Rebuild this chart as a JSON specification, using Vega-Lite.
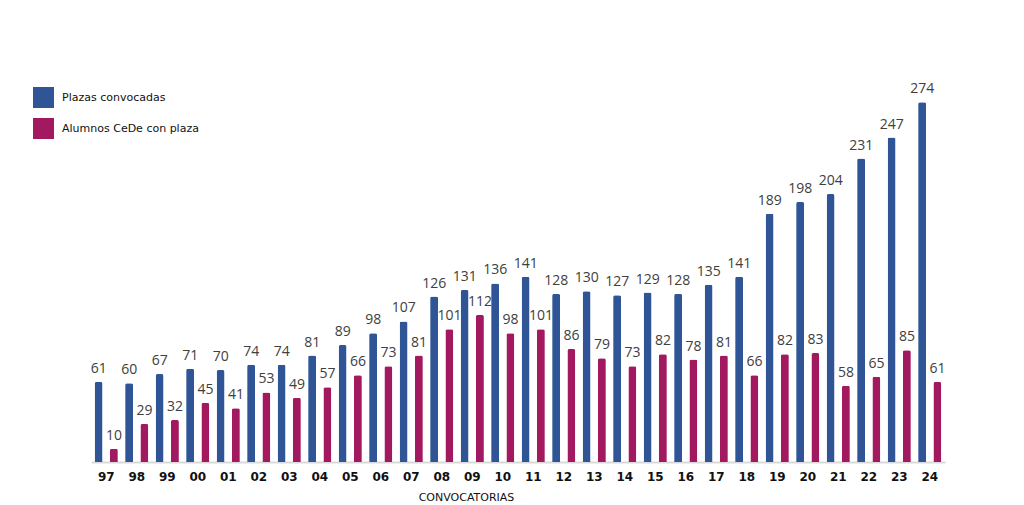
{
  "$schema": "https://vega.github.io/schema/vega-lite/v6.json",
  "width": 854,
  "height": 394,
  "autosize": {"type": "none"},
  "padding": {"left": 91, "top": 68, "right": 79, "bottom": 43},
  "background": "white",
  "config": {"view": {"stroke": null}},
  "data": {"values": [
    {"conv":"97","serie":"Plazas convocadas","valor":61},{"conv":"97","serie":"Alumnos CeDe con plaza","valor":10},
    {"conv":"98","serie":"Plazas convocadas","valor":60},{"conv":"98","serie":"Alumnos CeDe con plaza","valor":29},
    {"conv":"99","serie":"Plazas convocadas","valor":67},{"conv":"99","serie":"Alumnos CeDe con plaza","valor":32},
    {"conv":"00","serie":"Plazas convocadas","valor":71},{"conv":"00","serie":"Alumnos CeDe con plaza","valor":45},
    {"conv":"01","serie":"Plazas convocadas","valor":70},{"conv":"01","serie":"Alumnos CeDe con plaza","valor":41},
    {"conv":"02","serie":"Plazas convocadas","valor":74},{"conv":"02","serie":"Alumnos CeDe con plaza","valor":53},
    {"conv":"03","serie":"Plazas convocadas","valor":74},{"conv":"03","serie":"Alumnos CeDe con plaza","valor":49},
    {"conv":"04","serie":"Plazas convocadas","valor":81},{"conv":"04","serie":"Alumnos CeDe con plaza","valor":57},
    {"conv":"05","serie":"Plazas convocadas","valor":89},{"conv":"05","serie":"Alumnos CeDe con plaza","valor":66},
    {"conv":"06","serie":"Plazas convocadas","valor":98},{"conv":"06","serie":"Alumnos CeDe con plaza","valor":73},
    {"conv":"07","serie":"Plazas convocadas","valor":107},{"conv":"07","serie":"Alumnos CeDe con plaza","valor":81},
    {"conv":"08","serie":"Plazas convocadas","valor":126},{"conv":"08","serie":"Alumnos CeDe con plaza","valor":101},
    {"conv":"09","serie":"Plazas convocadas","valor":131},{"conv":"09","serie":"Alumnos CeDe con plaza","valor":112},
    {"conv":"10","serie":"Plazas convocadas","valor":136},{"conv":"10","serie":"Alumnos CeDe con plaza","valor":98},
    {"conv":"11","serie":"Plazas convocadas","valor":141},{"conv":"11","serie":"Alumnos CeDe con plaza","valor":101},
    {"conv":"12","serie":"Plazas convocadas","valor":128},{"conv":"12","serie":"Alumnos CeDe con plaza","valor":86},
    {"conv":"13","serie":"Plazas convocadas","valor":130},{"conv":"13","serie":"Alumnos CeDe con plaza","valor":79},
    {"conv":"14","serie":"Plazas convocadas","valor":127},{"conv":"14","serie":"Alumnos CeDe con plaza","valor":73},
    {"conv":"15","serie":"Plazas convocadas","valor":129},{"conv":"15","serie":"Alumnos CeDe con plaza","valor":82},
    {"conv":"16","serie":"Plazas convocadas","valor":128},{"conv":"16","serie":"Alumnos CeDe con plaza","valor":78},
    {"conv":"17","serie":"Plazas convocadas","valor":135},{"conv":"17","serie":"Alumnos CeDe con plaza","valor":81},
    {"conv":"18","serie":"Plazas convocadas","valor":141},{"conv":"18","serie":"Alumnos CeDe con plaza","valor":66},
    {"conv":"19","serie":"Plazas convocadas","valor":189},{"conv":"19","serie":"Alumnos CeDe con plaza","valor":82},
    {"conv":"20","serie":"Plazas convocadas","valor":198},{"conv":"20","serie":"Alumnos CeDe con plaza","valor":83},
    {"conv":"21","serie":"Plazas convocadas","valor":204},{"conv":"21","serie":"Alumnos CeDe con plaza","valor":58},
    {"conv":"22","serie":"Plazas convocadas","valor":231},{"conv":"22","serie":"Alumnos CeDe con plaza","valor":65},
    {"conv":"23","serie":"Plazas convocadas","valor":247},{"conv":"23","serie":"Alumnos CeDe con plaza","valor":85},
    {"conv":"24","serie":"Plazas convocadas","valor":274},{"conv":"24","serie":"Alumnos CeDe con plaza","valor":61}
  ]},
  "encoding": {
    "x": {
      "field": "conv", "type": "nominal", "sort": null,
      "scale": {"paddingInner": 0, "paddingOuter": 0},
      "axis": {
        "title": "CONVOCATORIAS", "labelAngle": 0, "ticks": false,
        "labelFont": "DejaVu Sans", "labelFontWeight": "bold", "labelFontSize": 12, "labelColor": "#111111", "labelPadding": 9,
        "titleFont": "DejaVu Sans", "titleFontWeight": "normal", "titleFontSize": 11, "titleColor": "#111111",
        "titleX": 375, "titleY": 29, "titleBaseline": "top", "titleAnchor": null,
        "domainColor": "#d9d9d9", "domainWidth": 2
      }
    },
    "xOffset": {"field": "serie", "type": "nominal", "sort": ["Plazas convocadas", "Alumnos CeDe con plaza"], "scale": {"paddingInner": 0, "paddingOuter": 0}},
    "y": {"field": "valor", "type": "quantitative", "scale": {"domain": [0, 300]}, "axis": null}
  },
  "layer": [
    {
      "mark": {"type": "bar", "size": 8, "cornerRadiusTopLeft": 2, "cornerRadiusTopRight": 2},
      "encoding": {
        "color": {
          "field": "serie", "type": "nominal",
          "scale": {"domain": ["Plazas convocadas", "Alumnos CeDe con plaza"], "range": ["#2F5597", "#A3195F"]},
          "legend": {
            "title": null, "orient": "none", "legendX": -58, "legendY": 19,
            "symbolType": "square", "symbolSize": 440, "symbolStrokeWidth": 0, "symbolOpacity": 1,
            "labelFont": "DejaVu Sans", "labelFontSize": 11, "labelColor": "#111111", "labelOffset": 8,
            "rowPadding": 10
          }
        }
      }
    },
    {
      "mark": {"type": "text", "baseline": "bottom", "dy": -6, "font": "Open Sans", "fontSize": 14, "color": "#404040"},
      "encoding": {"text": {"field": "valor", "type": "quantitative"}}
    }
  ]
}
